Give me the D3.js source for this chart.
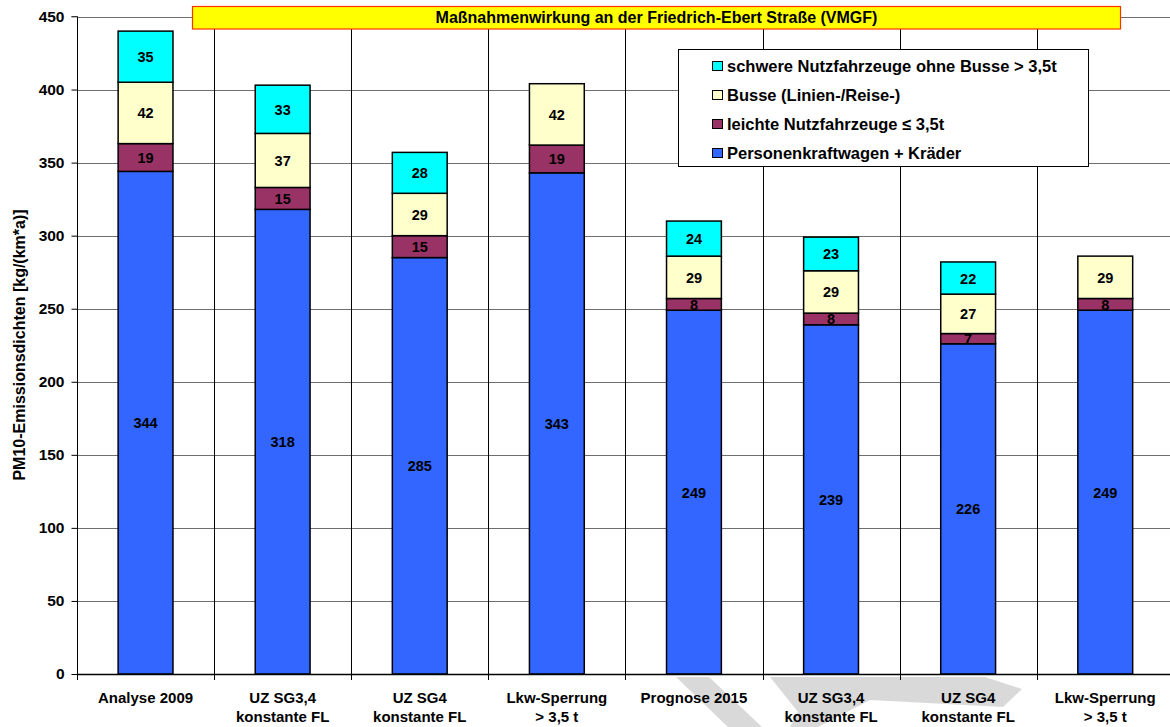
<!DOCTYPE html>
<html lang="de">

<head>
    <meta charset="UTF-8">
    <title>PM10 Friedrich-Ebert Straße</title>
    <script src="https://d3js.org/d3.v7.min.js"></script>
    <style>
        body { margin: 0; background: #fff; }
        text { font-family: Arial, "Liberation Sans", sans-serif; font-weight: bold; fill: #000; }
    </style>
</head>

<body>
    <script>
        var width = 1170, height = 727;

        // data
        var categories = [
            ['Analyse 2009'], ['UZ SG3,4', 'konstante FL'], ['UZ SG4', 'konstante FL'], ['Lkw-Sperrung', '> 3,5 t'],
            ['Prognose 2015'], ['UZ SG3,4', 'konstante FL'], ['UZ SG4', 'konstante FL'], ['Lkw-Sperrung', '> 3,5 t']
        ];
        var seriesNames = ['Personenkraftwagen + Kräder', 'leichte Nutzfahrzeuge ≤ 3,5t',
            'Busse (Linien-/Reise-)', 'schwere Nutzfahrzeuge ohne Busse > 3,5t'];
        var pkw = [344, 318, 285, 343, 249, 239, 226, 249];
        var lnf = [19, 15, 15, 19, 8, 8, 7, 8];
        var busse = [42, 37, 29, 42, 29, 29, 27, 29];
        var snf = [35, 33, 28, 0, 24, 23, 22, 0];
        var yTicks = [0, 50, 100, 150, 200, 250, 300, 350, 400, 450];
        var colors = ['#3366ff', '#993366', '#ffffcc', '#00ffff'];

        var svg = d3.select('body').append('svg').attr('width', width).attr('height', height);

        var x = d3.scaleBand().domain(d3.range(categories.length)).range([77, 77 + 8 * 137.1]);
        var y = d3.scaleLinear().domain([0, 450]).range([674, 16.5]);

        // watermark shapes behind the chart
        svg.append('path').attr('fill', '#d9d9d9')
            .attr('d', 'M676,677 L709,677 L762,727 L728,727 Z');
        svg.append('path').attr('fill', '#d9d9d9')
            .attr('d', 'M770,677 L985,677 L1022,689 L1003,707 L870,700 L818,727 L790,727 L798,712 Z');

        // horizontal grid lines
        svg.append('g').selectAll('line').data(yTicks.slice(1)).join('line')
            .attr('x1', 77).attr('x2', width)
            .attr('y1', function (d) { return Math.round(y(d)) + 0.5 })
            .attr('y2', function (d) { return Math.round(y(d)) + 0.5 })
            .attr('stroke', '#6f6f6f').attr('stroke-width', 1);

        // vertical grid lines between categories
        svg.append('g').selectAll('line').data(d3.range(1, categories.length)).join('line')
            .attr('x1', function (d) { return Math.round(x(d)) + 0.5 })
            .attr('x2', function (d) { return Math.round(x(d)) + 0.5 })
            .attr('y1', y(450)).attr('y2', y(0))
            .attr('stroke', '#000').attr('stroke-width', 1);

        // stack the series
        var rows = categories.map(function (c, i) {
            return { i: i, s0: pkw[i], s1: lnf[i], s2: busse[i], s3: snf[i] };
        });
        var stack = d3.stack().keys(['s0', 's1', 's2', 's3'])(rows);
        var bw = x.bandwidth() * 0.4;

        var layer = svg.append('g').selectAll('g').data(stack).join('g')
            .attr('fill', function (d, k) { return colors[k] });

        layer.selectAll('rect').data(function (d) { return d.filter(function (p) { return p[1] > p[0] }) }).join('rect')
            .attr('x', function (d) { return x(d.data.i) + (x.bandwidth() - bw) / 2 })
            .attr('y', function (d) { return y(d[1]) })
            .attr('width', bw)
            .attr('height', function (d) { return y(d[0]) - y(d[1]) })
            .attr('stroke', '#000').attr('stroke-width', 1.5);

        layer.selectAll('text').data(function (d) { return d.filter(function (p) { return p[1] > p[0] }) }).join('text')
            .attr('x', function (d) { return x(d.data.i) + x.bandwidth() / 2 })
            .attr('y', function (d) { return (y(d[0]) + y(d[1])) / 2 + 5.5 })
            .attr('text-anchor', 'middle').style('font-size', '14.5px')
            .text(function (d) { return d[1] - d[0] });

        // y axis
        var yAxis = svg.append('g').attr('transform', 'translate(77.5,0)')
            .call(d3.axisLeft(y).tickValues(yTicks).tickSize(6).tickPadding(7));
        yAxis.select('.domain').attr('stroke', '#000').attr('d', 'M-6,' + y(450) + 'H0V' + (y(0) + 0.5));
        yAxis.selectAll('.tick line').attr('stroke', '#000');
        yAxis.selectAll('text').style('font-size', '15.5px').style('font-family', 'Arial, "Liberation Sans", sans-serif').style('font-weight', 'bold');
        yAxis.select('.tick:last-of-type line').attr('stroke', '#6f6f6f');

        // x axis line with tick marks at category borders
        svg.append('line').attr('x1', 77).attr('x2', width).attr('y1', y(0) + 0.5).attr('y2', y(0) + 0.5)
            .attr('stroke', '#000').attr('stroke-width', 1.5);
        svg.append('g').selectAll('line').data(d3.range(0, categories.length)).join('line')
            .attr('x1', function (d) { return Math.round(x(d)) + 0.5 })
            .attr('x2', function (d) { return Math.round(x(d)) + 0.5 })
            .attr('y1', y(0)).attr('y2', y(0) + 6)
            .attr('stroke', '#000');

        // category labels
        var cat = svg.append('g').selectAll('text').data(categories).join('text')
            .attr('text-anchor', 'middle').style('font-size', '15px')
            .attr('x', function (d, i) { return x(i) + x.bandwidth() / 2 })
            .attr('y', 703);
        cat.selectAll('tspan').data(function (d) { return d }).join('tspan')
            .attr('x', function () { return d3.select(this.parentNode).attr('x') })
            .attr('dy', function (d, k) { return k === 0 ? 0 : 18.5 })
            .text(function (d) { return d });

        // y axis title
        svg.append('text').attr('transform', 'translate(25,345) rotate(-90)')
            .attr('text-anchor', 'middle').style('font-size', '16px')
            .text('PM10-Emissionsdichten [kg/(km*a)]');

        // chart title box
        svg.append('rect').attr('x', 192.5).attr('y', 6.5).attr('width', 928).attr('height', 22.5)
            .attr('fill', '#ffff00').attr('stroke', '#ff3300').attr('stroke-width', 1.2);
        svg.append('text').attr('x', 656.5).attr('y', 22.5).attr('text-anchor', 'middle')
            .style('font-size', '16px')
            .text('Maßnahmenwirkung an der Friedrich-Ebert Straße (VMGF)');

        // legend
        var lg = svg.append('g');
        lg.append('rect').attr('x', 678.5).attr('y', 49.5).attr('width', 410).attr('height', 117)
            .attr('fill', '#fff').attr('stroke', '#000');
        var legendOrder = [3, 2, 1, 0];
        var item = lg.selectAll('g').data(legendOrder).join('g')
            .attr('transform', function (d, k) { return 'translate(712,' + (65 + k * 29) + ')' });
        item.append('rect').attr('x', 0.5).attr('y', -3.5).attr('width', 10).attr('height', 9)
            .attr('fill', function (d) { return colors[d] }).attr('stroke', '#000');
        item.append('text').attr('x', 15).attr('y', 6.5).style('font-size', '16.5px')
            .text(function (d) { return seriesNames[d] });
    </script>
</body>

</html>
